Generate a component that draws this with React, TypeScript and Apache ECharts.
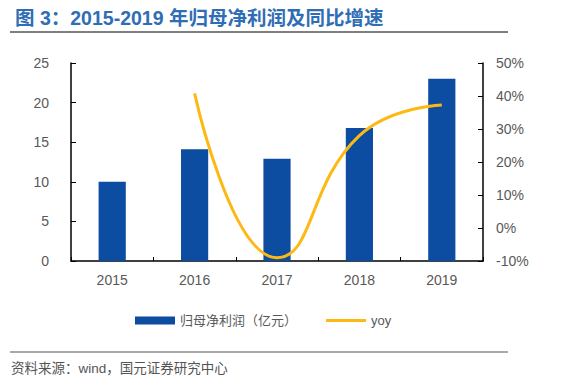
import React, { useEffect, useRef } from "react";
import * as echarts from "echarts";

const categories = ["2015", "2016", "2017", "2018", "2019"];
const profit = [10.0, 14.1, 12.9, 16.8, 23.0];
const yoy = [null, 40.8, -9.0, 28.0, 37.3];
const leftTicks = { min: 0, max: 25, interval: 5 };
const rightTicks = { min: -10, max: 50, interval: 10 };

const TITLE = "图 3：2015-2019 年归母净利润及同比增速";
const SOURCE = "资料来源：wind，国元证券研究中心";
const BAR_NAME = "归母净利润（亿元）";
const LINE_NAME = "yoy";

const FONT = "Arial, 'Liberation Sans', 'Noto Sans CJK SC', sans-serif";

export default function App() {
  const ref = useRef<HTMLDivElement>(null);
  useEffect(() => {
    if (!ref.current) return;
    const chart = echarts.init(ref.current, undefined, { renderer: "svg" });
    chart.setOption({
      animation: false,
      backgroundColor: "#ffffff",
      textStyle: { fontFamily: FONT },
      title: {
        text: TITLE,
        left: 10,
        top: 3,
        textStyle: { color: "#2F6DB5", fontSize: 19.5, fontWeight: "bold", fontFamily: FONT },
      },
      graphic: [
        { type: "line", shape: { x1: 10, y1: 32, x2: 508, y2: 32 }, style: { stroke: "#000", lineWidth: 1 } },
        { type: "line", shape: { x1: 10, y1: 352, x2: 508, y2: 352 }, style: { stroke: "#555", lineWidth: 1 } },
        {
          type: "text",
          left: 11,
          top: 362,
          style: { text: SOURCE, fill: "#555", fontSize: 13.5, fontFamily: FONT },
        },
      ],
      legend: {
        left: 130,
        top: 309,
        itemGap: 29,
        itemWidth: 40,
        itemHeight: 8,
        textStyle: { color: "#595959", fontSize: 13, fontFamily: FONT },
        data: [
          { name: BAR_NAME, icon: "rect" },
          { name: LINE_NAME, icon: "path://M0,0 L40,0 L40,3 L0,3 Z", itemStyle: { color: "#FDB913" } },
        ],
      },
      grid: { left: 71, right: 92, top: 63, bottom: 127 },
      xAxis: {
        type: "category",
        data: categories,
        axisLine: { lineStyle: { color: "#000", width: 1.5 } },
        axisTick: { show: true, inside: true, length: 4, lineStyle: { color: "#000" } },
        axisLabel: { color: "#595959", fontSize: 14, margin: 12 },
      },
      yAxis: [
        {
          type: "value",
          ...leftTicks,
          splitLine: { show: false },
          axisLine: { show: true, lineStyle: { color: "#000", width: 1.5 } },
          axisTick: { show: true, inside: true, length: 5, lineStyle: { color: "#000" } },
          axisLabel: { color: "#595959", fontSize: 14, margin: 22 },
        },
        {
          type: "value",
          ...rightTicks,
          splitLine: { show: false },
          axisLine: { show: true, lineStyle: { color: "#000", width: 1.5 } },
          axisTick: { show: true, inside: true, length: 5, lineStyle: { color: "#000" } },
          axisLabel: { color: "#595959", fontSize: 14, margin: 13, formatter: "{value}%" },
        },
      ],
      series: [
        {
          name: BAR_NAME,
          type: "bar",
          data: profit,
          barWidth: "33%",
          itemStyle: { color: "#0C4DA2" },
        },
        {
          name: LINE_NAME,
          type: "line",
          yAxisIndex: 1,
          data: yoy,
          smooth: 0.5,
          showSymbol: false,
          symbol: "none",
          lineStyle: { color: "#FDB913", width: 3 },
          itemStyle: { color: "#FDB913" },
        },
      ],
    });
    return () => chart.dispose();
  }, []);
  return (
    <div
      ref={ref}
      style={{ position: "fixed", left: 0, top: 0, width: 575, height: 388 }}
    />
  );
}
